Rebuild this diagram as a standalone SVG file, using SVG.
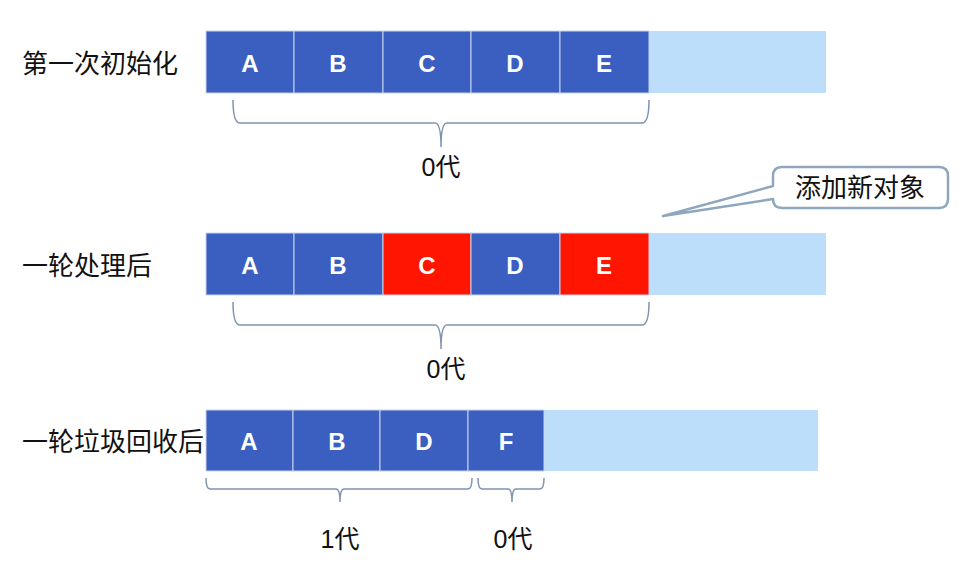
<svg xmlns="http://www.w3.org/2000/svg" width="969" height="562" viewBox="0 0 969 562">
<style>
.cell{fill:#3B5FC0;stroke:#C9D3EE;stroke-width:1}
.red{fill:#FF1500;stroke:#C9D3EE;stroke-width:1}
.free{fill:#BDDEFA}
.lt{font-family:"Liberation Sans",Arial,sans-serif;font-weight:bold;font-size:24px;fill:#fff;text-anchor:middle}
.lab{font-family:"Noto Sans CJK SC","Liberation Sans",sans-serif;font-size:26px;fill:#111}
.gen{font-family:"Liberation Sans","Noto Sans CJK SC",sans-serif;font-size:25px;fill:#111;text-anchor:middle}
.brace{fill:none;stroke:#7F93B0;stroke-width:1.5}
</style>
<rect width="969" height="562" fill="#fff"/>

<g id="row1">
<text class="lab" x="22" y="73">第一次初始化</text>
<rect class="free" x="649" y="31" width="177" height="62"/>
<rect class="cell" x="206" y="31" width="88" height="62"/>
<rect class="cell" x="294" y="31" width="89" height="62"/>
<rect class="cell" x="383" y="31" width="88" height="62"/>
<rect class="cell" x="471" y="31" width="89" height="62"/>
<rect class="cell" x="560" y="31" width="89" height="62"/>
<text class="lt" x="250" y="72">A</text>
<text class="lt" x="338" y="72">B</text>
<text class="lt" x="427" y="72">C</text>
<text class="lt" x="515" y="72">D</text>
<text class="lt" x="604" y="72">E</text>
</g>

<g id="row2">
<text class="lab" x="22" y="275">一轮处理后</text>
<rect class="free" x="649" y="233" width="177" height="62"/>
<rect class="cell" x="206" y="233" width="88" height="62"/>
<rect class="cell" x="294" y="233" width="89" height="62"/>
<rect class="red" x="383" y="233" width="88" height="62"/>
<rect class="cell" x="471" y="233" width="89" height="62"/>
<rect class="red" x="560" y="233" width="89" height="62"/>
<text class="lt" x="250" y="274">A</text>
<text class="lt" x="338" y="274">B</text>
<text class="lt" x="427" y="274">C</text>
<text class="lt" x="515" y="274">D</text>
<text class="lt" x="604" y="274">E</text>
</g>

<g id="row3">
<text class="lab" x="22" y="451">一轮垃圾回收后</text>
<rect class="free" x="544" y="410" width="274" height="61"/>
<rect class="cell" x="206" y="410" width="87" height="61"/>
<rect class="cell" x="293" y="410" width="87" height="61"/>
<rect class="cell" x="380" y="410" width="88" height="61"/>
<rect class="cell" x="468" y="410" width="76" height="61"/>
<text class="lt" x="249" y="450">A</text>
<text class="lt" x="337" y="450">B</text>
<text class="lt" x="424" y="450">D</text>
<text class="lt" x="506" y="450">F</text>
</g>

<g id="callout">
<path d="M663,216 L773,186 L773,176 Q773,167 782,167 L939,167 Q948,167 948,176 L948,199 Q948,208 939,208 L782,208 Q773,208 773,199 L773,199 Z" fill="#fff" stroke="#8EA6BE" stroke-width="2.5" stroke-linejoin="round"/>
<text class="lab" x="860" y="197" text-anchor="middle" font-size="24">添加新对象</text>
</g>

<g id="connectors">
<path class="brace" d="M233,100 Q233,123 240,123 L435,123 Q441,123 441,147 Q441,123 447,123 L642,123 Q649,123 649,100"/>
<path class="brace" d="M233,302 Q233,325 240,325 L435,325 Q441,325 441,349 Q441,325 447,325 L642,325 Q649,325 649,302"/>
<path class="brace" d="M206,478 Q206,489 210,489 L336,489 Q340,489 340,502 Q340,489 344,489 L468,489 Q472,489 472,478"/>
<path class="brace" d="M478,478 Q478,489 482,489 L508,489 Q512,489 512,502 Q512,489 516,489 L540,489 Q544,489 544,478"/>
</g>

<g id="labels">
<text class="gen" x="441" y="176">0代</text>
<text class="gen" x="446" y="378">0代</text>
<text class="gen" x="340" y="548">1代</text>
<text class="gen" x="513" y="548">0代</text>
</g>
</svg>
